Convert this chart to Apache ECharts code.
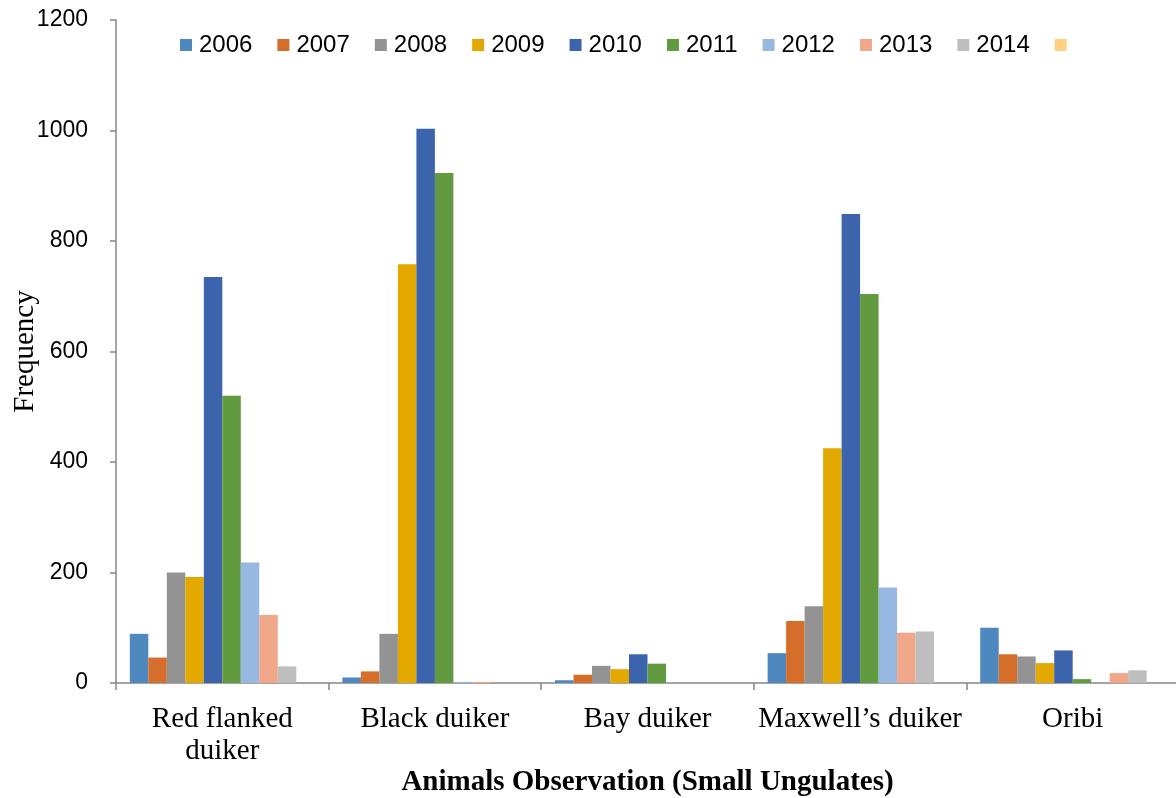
<!DOCTYPE html>
<html>
<head>
<meta charset="utf-8">
<script src="https://cdn.jsdelivr.net/npm/echarts@6/dist/echarts.min.js"></script>
<style>html,body{margin:0;padding:0;background:#fff}#c{width:1176px;height:798px}</style>
</head>
<body>
<div id="c"></div>
<script>
const categories = ['Red flanked\nduiker', 'Black duiker', 'Bay duiker', 'Maxwell\u2019s duiker', 'Oribi'];
const yTicks = [0, 200, 400, 600, 800, 1000, 1200];
const years = ['2006', '2007', '2008', '2009', '2010', '2011', '2012', '2013', '2014', ''];
const v2006 = [89, 10, 5, 54, 100];
const v2007 = [46, 21, 15, 112, 52];
const v2008 = [200, 89, 31, 139, 48];
const v2009 = [192, 758, 25, 425, 36];
const v2010 = [735, 1003, 52, 849, 59];
const v2011 = [520, 923, 35, 704, 7];
const v2012 = [218, 2, 0, 173, 0];
const v2013 = [123, 2, 0, 91, 18];
const v2014 = [30, 0, 0, 93, 23];
const v2015 = [0, 0, 0, 0, 0];
const seriesValues = [v2006, v2007, v2008, v2009, v2010, v2011, v2012, v2013, v2014, v2015];
const colors = ['#4F88BE', '#D46E2A', '#939393', '#E3A900', '#3B64AD', '#629A3F', '#97B8E0', '#F0A78A', '#BEBEBE', '#FFD27F'];

const chart = echarts.init(document.getElementById('c'), null, {renderer: 'canvas'});
const sans = 'Liberation Sans';
const serif = 'Liberation Serif';
chart.setOption({
  animation: false,
  color: colors,
  legend: {
    top: 28,
    left: 175,
    itemWidth: 12,
    itemHeight: 12,
    itemGap: 25,
    icon: 'rect',
    textStyle: {fontFamily: sans, fontSize: 24, color: '#000', padding: [0, 0, 0, 2]},
    data: years.map((y, i) => ({name: y === '' ? ' ' : y}))
  },
  grid: {left: 116, top: 20, width: 1063, bottom: 115, containLabel: false, outerBoundsMode: 'none'},
  xAxis: {
    type: 'category',
    data: categories,
    name: 'Animals Observation (Small Ungulates)',
    nameLocation: 'middle',
    nameGap: 85,
    nameMoveOverlap: false,
    nameTextStyle: {fontFamily: serif, fontSize: 29, fontWeight: 'bold', color: '#000'},
    axisLine: {lineStyle: {color: '#868686', width: 1.5}},
    axisTick: {show: true, length: 7, lineStyle: {color: '#868686', width: 1.5}},
    axisLabel: {fontFamily: serif, fontSize: 29, color: '#000', margin: 20, lineHeight: 32, interval: 0}
  },
  yAxis: {
    type: 'value',
    min: 0, max: 1200, interval: 200,
    name: 'Frequency',
    nameLocation: 'middle',
    nameGap: 76,
    nameMoveOverlap: false,
    nameTextStyle: {fontFamily: serif, fontSize: 29, color: '#000'},
    axisLine: {show: true, lineStyle: {color: '#868686', width: 1.5}},
    axisTick: {show: true, length: 6, lineStyle: {color: '#868686', width: 1.5}},
    splitLine: {show: false},
    axisLabel: {fontFamily: sans, fontSize: 23, color: '#000', margin: 28,
      formatter: v => yTicks.includes(v) ? String(v) : ''}
  },
  series: seriesValues.map((vals, i) => ({
    name: years[i] === '' ? ' ' : years[i],
    type: 'bar',
    data: vals,
    barGap: '0%',
    barCategoryGap: '13%',
    itemStyle: {color: colors[i]}
  }))
});
</script>
</body>
</html>
